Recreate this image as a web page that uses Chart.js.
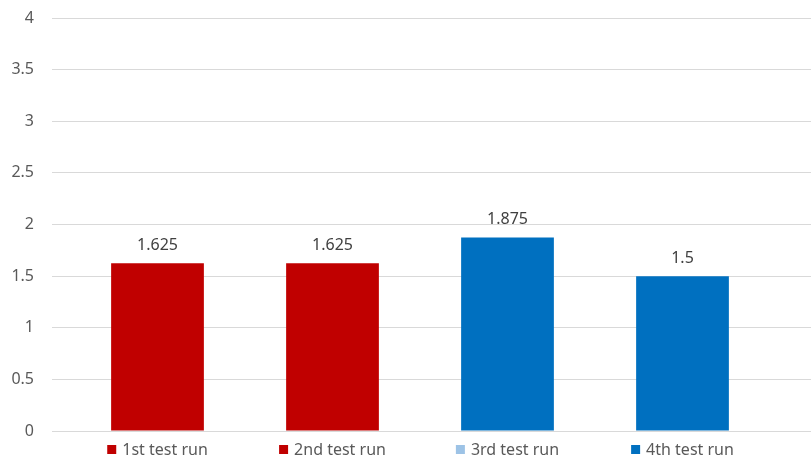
<!DOCTYPE html>
<html>
<head>
<meta charset="utf-8">
<script src="https://cdn.jsdelivr.net/npm/chart.js@4"></script>
<style>
  html, body { margin: 0; padding: 0; background: #fff; }
  #wrap { width: 811px; height: 461px; }
</style>
</head>
<body>
<div id="wrap"><canvas id="myChart"></canvas></div>
<script>
const categories = ['1st test run', '2nd test run', '3rd test run', '4th test run'];
const values = [1.625, 1.625, 1.875, 1.5];
const barColors = ['#C00000', '#C00000', '#0070C0', '#0070C0'];
const legendColors = ['#C00000', '#C00000', '#9DC3E6', '#0070C0'];
const yTicks = [0, 0.5, 1, 1.5, 2, 2.5, 3, 3.5, 4];

const FONT = '"Noto Sans", sans-serif';

// value labels above the bars
const barLabels = {
  id: 'barLabels',
  afterDatasetsDraw(chart) {
    const ctx = chart.ctx;
    const meta = chart.getDatasetMeta(0);
    ctx.save();
    ctx.font = '16px ' + FONT;
    ctx.fillStyle = '#404040';
    ctx.textAlign = 'center';
    ctx.textBaseline = 'middle';
    meta.data.forEach((bar, i) => {
      ctx.fillText(String(values[i]), bar.x, bar.y - 18);
    });
    ctx.restore();
  }
};

// legend entries sit under each bar, like in the Excel chart
const bottomLegend = {
  id: 'bottomLegend',
  afterDraw(chart) {
    const ctx = chart.ctx;
    const x = chart.scales.x;
    const y = chart.chartArea.bottom + 19;
    ctx.save();
    ctx.font = '16px ' + FONT;
    ctx.textBaseline = 'middle';
    ctx.textAlign = 'left';
    categories.forEach((name, i) => {
      const w = ctx.measureText(name).width;
      const total = 9 + 6 + w;
      const left = x.getPixelForValue(i) - total / 2;
      ctx.fillStyle = legendColors[i];
      ctx.fillRect(left, y - 5, 9, 9);
      ctx.fillStyle = '#595959';
      ctx.fillText(name, left + 15, y);
    });
    ctx.restore();
  }
};

const data = {
  labels: categories,
  datasets: [{
    data: values,
    backgroundColor: barColors,
    barPercentage: 0.53,
    categoryPercentage: 1
  }]
};

const gridColor = '#D9D9D9';

function noEdgePadding(scale) {
  scale.paddingTop = 0;
  scale.paddingBottom = 0;
}

new Chart(document.getElementById('myChart'), {
  type: 'bar',
  data: data,
  plugins: [barLabels, bottomLegend],
  options: {
    responsive: true,
    maintainAspectRatio: false,
    animation: false,
    layout: { padding: { top: 18, left: 7, right: 0, bottom: 22 } },
    plugins: {
      legend: { display: false },
      tooltip: { enabled: false }
    },
    scales: {
      x: {
        grid: { display: false },
        ticks: { display: false },
        border: { display: true, color: gridColor }
      },
      y: {
        min: 0,
        max: 4,
        afterBuildTicks(scale) { scale.ticks = yTicks.map(v => ({ value: v })); },
        afterFit(scale) { scale.width = 63; noEdgePadding(scale); },
        grid: { color: gridColor, tickLength: 18, tickColor: gridColor },
        border: { display: false },
        ticks: {
          color: '#595959',
          padding: 18,
          font: { family: FONT, size: 16 },
          callback: v => String(v)
        }
      },
      y2: {
        position: 'right',
        min: 0,
        max: 4,
        afterBuildTicks(scale) { scale.ticks = yTicks.map(v => ({ value: v })); },
        afterFit: noEdgePadding,
        grid: { drawOnChartArea: false, tickLength: 41, tickColor: gridColor },
        border: { display: false },
        ticks: { display: false }
      }
    }
  }
});
</script>
</body>
</html>
